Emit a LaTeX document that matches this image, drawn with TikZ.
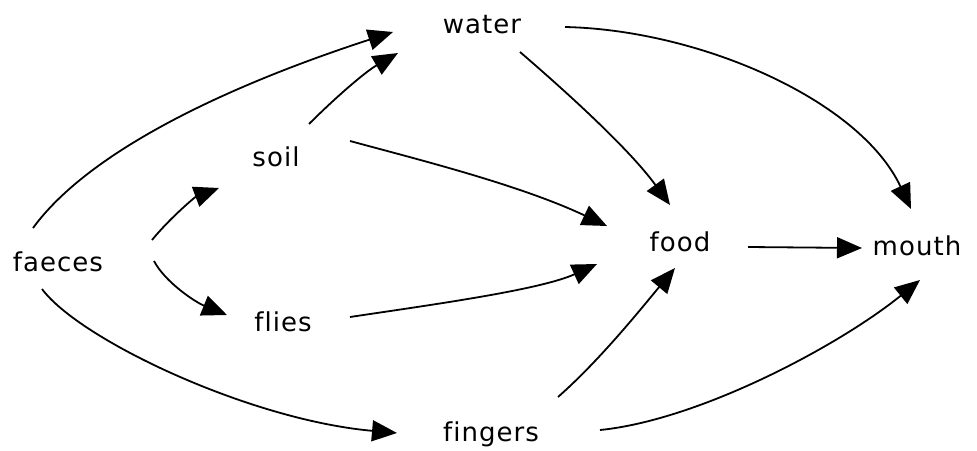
\documentclass[tikz,border=0pt]{standalone}
\usepackage{fontspec}
\setmainfont[Ligatures=NoCommon,LetterSpace=4]{DejaVu Sans}
\usetikzlibrary{arrows.meta,calc}
\begin{document}
\begin{tikzpicture}[x=1pt,y=-1pt,
  lbl/.style={font=\fontsize{26}{30}\selectfont, inner sep=0pt},
  arr/.style={line width=1.8pt, -{Triangle[length=25pt,width=21pt]}}]
\useasboundingbox (0,0) rectangle (977,450);
\node[lbl] (water) at (482,25) {water};
\node[lbl] (soil) at (276,157) {soil};
\node[lbl] (faeces) at (58,262) {faeces};
\node[lbl] (flies) at (283,322) {flies};
\node[lbl] (food) at (680,242) {food};
\node[lbl] (mouth) at (917,246) {mouth};
\node[lbl] (fingers) at (491,434) {fingers};
% faeces -> water
\draw[arr] ($(faeces)+(-25,-34)$) .. controls (90,150) and (230,85) .. ($(water)+(-89,7)$);
% soil -> water
\draw[arr] ($(soil)+(33,-33)$) .. controls (335,98) and (365,72) .. ($(water)+(-84,28)$);
% faeces -> soil
\draw[arr] ($(faeces)+(94,-22)$) .. controls (170,218) and (195,197) .. ($(soil)+(-57,31)$);
% faeces -> flies
\draw[arr] ($(faeces)+(96,-1)$) .. controls (165,282) and (195,302) .. ($(flies)+(-56,-7)$);
% faeces -> fingers
\draw[arr] ($(faeces)+(-16,27)$) .. controls (80,340) and (250,420) .. ($(fingers)+(-94,-1)$);
% soil -> food
\draw[arr] ($(soil)+(74,-16)$) .. controls (420,160) and (520,185) .. ($(food)+(-73,-16)$);
% water -> food
\draw[arr] ($(water)+(38,27)$) .. controls (570,95) and (630,150) .. ($(food)+(-10,-37)$);
% water -> mouth
\draw[arr] ($(water)+(83,2)$) .. controls (700,30) and (860,100) .. ($(mouth)+(-6,-37)$);
% flies -> food
\draw[arr] ($(flies)+(67,-5)$) .. controls (430,305) and (540,290) .. ($(food)+(-83,22)$);
% fingers -> food
\draw[arr] ($(fingers)+(67,-37)$) .. controls (600,360) and (640,310) .. ($(food)+(-5,26)$);
% fingers -> mouth
\draw[arr] ($(fingers)+(109,-4)$) .. controls (700,420) and (840,345) .. ($(mouth)+(3,34)$);
% food -> mouth
\draw[arr] ($(food)+(68,5)$) -- ($(mouth)+(-55,2)$);
\end{tikzpicture}
\end{document}
